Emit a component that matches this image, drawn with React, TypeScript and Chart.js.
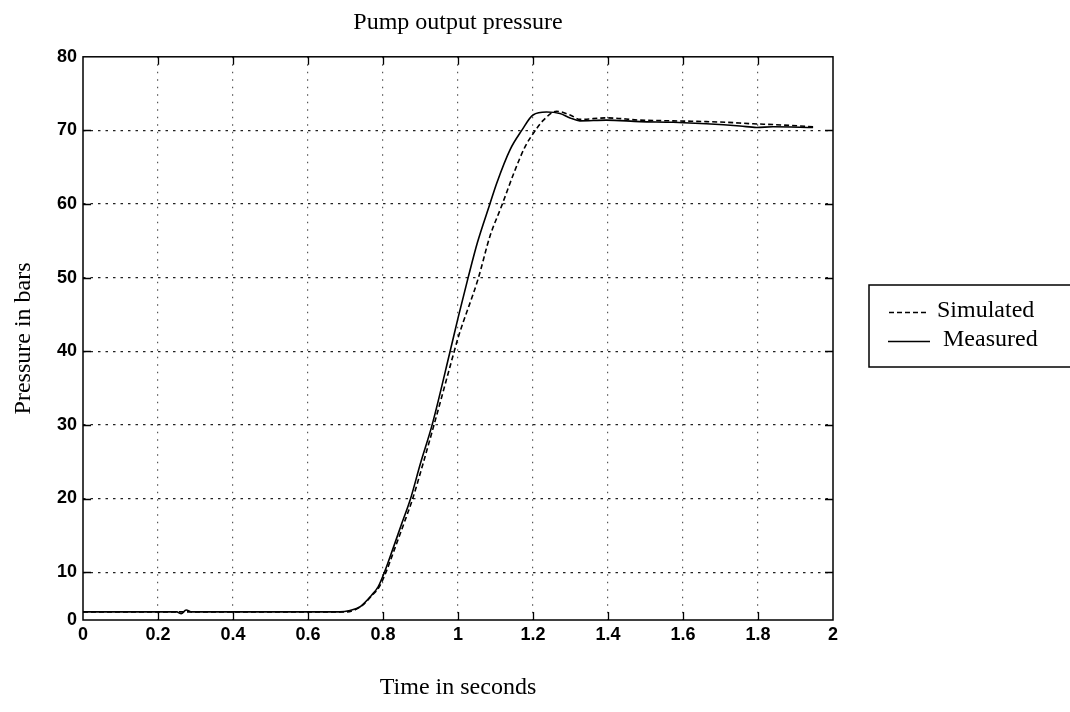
import { useEffect, useRef } from 'react';
import { Chart, registerables } from 'chart.js';

Chart.register(...registerables);

const TITLE = 'Pump output pressure';
const X_TITLE = 'Time in seconds';
const Y_TITLE = 'Pressure in bars';

const X_MIN = 0;
const X_MAX = 2;
const X_TICKS = [0, 0.2, 0.4, 0.6, 0.8, 1, 1.2, 1.4, 1.6, 1.8, 2];
const X_TICK_LABELS = ['0', '0.2', '0.4', '0.6', '0.8', '1', '1.2', '1.4', '1.6', '1.8', '2'];

// the printed axis is cut just above 0 in the reference, its bottom is labelled "0"
const Y_MIN = 3.5;
const Y_MAX = 80;
const Y_TICKS = [3.5, 10, 20, 30, 40, 50, 60, 70, 80];
const Y_TICK_LABELS = ['0', '10', '20', '30', '40', '50', '60', '70', '80'];

const SERIES_LABELS = ['Simulated', 'Measured'];

const SIMULATED_X = [0, 0.25, 0.5, 0.7, 0.74, 0.77, 0.79, 0.808, 0.832, 0.855, 0.878, 0.906, 0.936, 0.99, 1.0, 1.054, 1.085, 1.116, 1.152, 1.179, 1.205, 1.228, 1.263, 1.299, 1.325, 1.396, 1.485, 1.574, 1.662, 1.716, 1.787, 1.84, 1.947];
const SIMULATED_Y = [4.6, 4.6, 4.6, 4.6, 5.3, 6.8, 8.0, 10.0, 13.3, 16.5, 19.8, 24.6, 30.0, 40.0, 41.8, 49.9, 55.6, 59.7, 64.6, 67.8, 69.9, 71.4, 72.6, 72.1, 71.5, 71.7, 71.4, 71.3, 71.2, 71.1, 70.9, 70.8, 70.5];

const MEASURED_X = [0, 0.25, 0.262, 0.275, 0.29, 0.5, 0.685, 0.712, 0.739, 0.77, 0.787, 0.804, 0.828, 0.85, 0.873, 0.9, 0.931, 0.979, 1.0, 1.027, 1.052, 1.085, 1.103, 1.139, 1.17, 1.2, 1.236, 1.272, 1.299, 1.325, 1.396, 1.485, 1.574, 1.662, 1.752, 1.796, 1.84, 1.947];
const MEASURED_Y = [4.6, 4.6, 4.35, 4.85, 4.6, 4.6, 4.6, 4.8, 5.3, 6.9, 8.0, 10.0, 13.4, 16.6, 19.9, 24.8, 30.0, 40.0, 44.5, 50.0, 54.8, 60.0, 62.8, 67.4, 70.0, 72.1, 72.5, 72.3, 71.7, 71.3, 71.4, 71.2, 71.1, 70.9, 70.6, 70.4, 70.5, 70.4];

const SERIF = "'Liberation Serif', 'Times New Roman', serif";
const SANS = "'Liberation Sans', Arial, sans-serif";

const toPoints = (xs: number[], ys: number[]) => xs.map((x, i) => ({ x, y: ys[i] }));

const framePlugin = {
  id: 'frame',
  afterDraw(chart: any) {
    const { ctx, chartArea: a, scales } = chart;
    ctx.save();
    ctx.setLineDash([]);
    ctx.strokeStyle = '#000';
    ctx.lineWidth = 1.5;
    ctx.strokeRect(a.left, a.top, a.right - a.left, a.bottom - a.top);
    const L = 8;
    ctx.lineWidth = 1.3;
    ctx.beginPath();
    scales.x.ticks.forEach((t: any) => {
      const px = Math.round(scales.x.getPixelForValue(t.value)) + 0.5;
      if (px <= a.left + 2 || px >= a.right - 2) return;
      ctx.moveTo(px, a.bottom);
      ctx.lineTo(px, a.bottom - L);
      ctx.moveTo(px, a.top);
      ctx.lineTo(px, a.top + L);
    });
    scales.y.ticks.forEach((t: any) => {
      const py = Math.round(scales.y.getPixelForValue(t.value)) + 0.5;
      if (py <= a.top + 2 || py >= a.bottom - 2) return;
      ctx.moveTo(a.left, py);
      ctx.lineTo(a.left + L, py);
      ctx.moveTo(a.right, py);
      ctx.lineTo(a.right - L, py);
    });
    ctx.stroke();

    // legend box
    const bx = 869;
    const by = 285;
    ctx.lineWidth = 1.5;
    ctx.strokeRect(bx, by, 1080 - bx, 82);
    ctx.font = `24px ${SERIF}`;
    ctx.fillStyle = '#000';
    ctx.textBaseline = 'middle';
    ctx.textAlign = 'left';
    const rows = [
      { y: 311, x0: 889, x1: 928, tx: 937 },
      { y: 340, x0: 888, x1: 930, tx: 943 },
    ];
    chart.data.datasets.forEach((ds: any, i: number) => {
      const r = rows[i];
      ctx.save();
      ctx.lineWidth = ds.borderWidth;
      ctx.strokeStyle = ds.borderColor;
      ctx.setLineDash(ds.borderDash || []);
      ctx.beginPath();
      ctx.moveTo(r.x0, r.y + 1.5);
      ctx.lineTo(r.x1, r.y + 1.5);
      ctx.stroke();
      ctx.restore();
      ctx.fillText(ds.label, r.tx, r.y);
    });
    ctx.restore();
  },
};

export default function App() {
  const ref = useRef<HTMLCanvasElement | null>(null);

  useEffect(() => {
    if (!ref.current) return;
    const chart = new Chart(ref.current, {
      type: 'line',
      data: {
        datasets: [
          {
            label: SERIES_LABELS[0],
            data: toPoints(SIMULATED_X, SIMULATED_Y),
            borderColor: '#000',
            borderWidth: 1.6,
            borderDash: [5, 3],
            pointRadius: 0,
            cubicInterpolationMode: 'monotone',
            fill: false,
            order: 2,
          },
          {
            label: SERIES_LABELS[1],
            data: toPoints(MEASURED_X, MEASURED_Y),
            borderColor: '#000',
            borderWidth: 1.6,
            pointRadius: 0,
            cubicInterpolationMode: 'monotone',
            fill: false,
            order: 1,
          },
        ],
      },
      options: {
        animation: false,
        responsive: false,
        maintainAspectRatio: false,
        layout: { padding: { left: 0, right: 237, top: 0, bottom: 0 } },
        plugins: {
          legend: { display: false },
          tooltip: { enabled: false },
          title: {
            display: true,
            text: TITLE,
            fullSize: false,
            color: '#000',
            font: { family: SERIF, size: 24, weight: 'normal' },
            padding: { top: 8, bottom: 20 },
          },
        },
        scales: {
          x: {
            type: 'linear',
            min: X_MIN,
            max: X_MAX,
            afterBuildTicks: (s: any) => {
              s.ticks = X_TICKS.map((v) => ({ value: v }));
            },
            afterFit: (s: any) => {
              s.height = 92;
            },
            ticks: {
              color: '#000',
              padding: 4,
              autoSkip: false,
              maxRotation: 0,
              font: { family: SANS, size: 18, weight: 'bold' },
              callback: (_v: any, i: number) => X_TICK_LABELS[i],
            },
            grid: {
              drawTicks: false,
              lineWidth: 1.2,
              color: (c: any) => (c.index === 0 || c.index === X_TICKS.length - 1 ? 'rgba(0,0,0,0)' : '#555'),
            },
            border: { display: false, dash: [1.5, 6] },
            title: {
              display: true,
              text: X_TITLE,
              color: '#000',
              font: { family: SERIF, size: 24, weight: 'normal' },
              padding: { top: 0, bottom: 10 },
            },
          },
          y: {
            type: 'linear',
            min: Y_MIN,
            max: Y_MAX,
            afterBuildTicks: (s: any) => {
              s.ticks = Y_TICKS.map((v) => ({ value: v }));
            },
            afterFit: (s: any) => {
              s.width = 83;
            },
            ticks: {
              color: '#000',
              padding: 6,
              autoSkip: false,
              font: { family: SANS, size: 18, weight: 'bold' },
              callback: (_v: any, i: number) => Y_TICK_LABELS[i],
            },
            grid: {
              drawTicks: false,
              lineWidth: 1.2,
              color: (c: any) => (c.index === 0 || c.index === Y_TICKS.length - 1 ? 'rgba(0,0,0,0)' : '#222'),
            },
            border: { display: false, dash: [2.5, 5] },
            title: {
              display: true,
              text: Y_TITLE,
              color: '#000',
              font: { family: SERIF, size: 24, weight: 'normal' },
              padding: { top: 9, bottom: 0 },
            },
          },
        },
      },
      plugins: [framePlugin],
    } as any);
    return () => chart.destroy();
  }, []);

  return (
    <div style={{ position: 'absolute', left: 0, top: 0, width: 1070, height: 712, background: '#fff' }}>
      <canvas ref={ref} width={1070} height={712} style={{ display: 'block' }} />
    </div>
  );
}
